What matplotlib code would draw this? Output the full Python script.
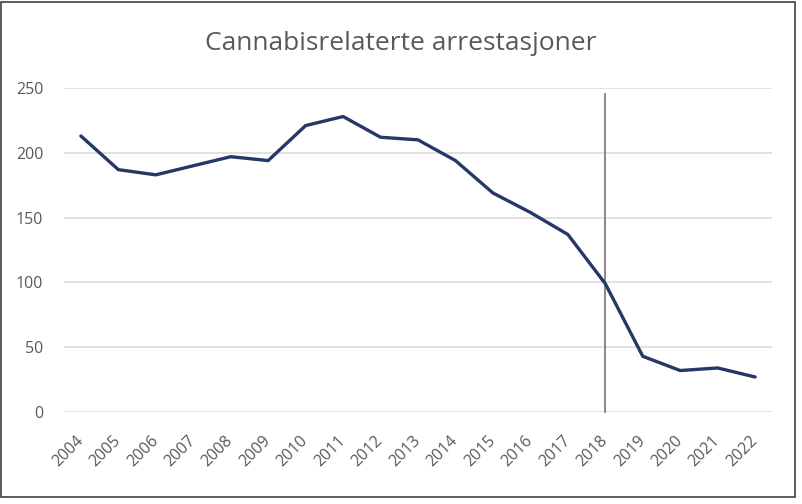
import matplotlib.pyplot as plt
from matplotlib.patches import Rectangle

years = [str(y) for y in range(2004, 2023)]
arrests = [213, 187, 183, 190, 197, 194, 221, 228, 212, 210,
           194, 169, 154, 137, 99, 43, 32, 34, 27]
marker_year = '2018'
marker_top = 245

plt.rcParams['font.family'] = ['Open Sans', 'DejaVu Sans']
text_col = '#595959'

fig = plt.figure(figsize=(8.02, 5.04), dpi=100)
ax = fig.add_axes([0.0798, 0.1825, 0.8828, 0.6429])

x = list(range(len(years)))
ax.plot(x, arrests, color='#263768', lw=2.4, solid_capstyle='round',
        solid_joinstyle='round', zorder=3)

xi = years.index(marker_year)
ax.plot([xi, xi], [0, marker_top], color='#7f7f7f', lw=1.3, zorder=2,
        clip_on=False)

ax.set_xlim(-0.45, len(years) - 0.55)
ax.set_ylim(0, 250)
ax.set_yticks(range(0, 251, 50))
ax.set_xticks(x)
ax.set_xticklabels(years, rotation=45, ha='right', va='center',
                   rotation_mode='anchor')
ax.tick_params(axis='both', length=0, labelsize=11.5, labelcolor=text_col)
ax.tick_params(axis='x', pad=19)
ax.tick_params(axis='y', pad=15)
ax.grid(axis='y', color='#d9d9d9', lw=1.1)
ax.set_axisbelow(True)
for s in ax.spines.values():
    s.set_visible(False)

fig.text(0.5, 1 - 43 / 504, 'Cannabisrelaterte arrestasjoner',
         ha='center', va='center', fontsize=19, color=text_col)

fig.patches.append(Rectangle((1 / 802, 1 - 497 / 504), 794 / 802, 495 / 504,
                             transform=fig.transFigure, fill=False,
                             edgecolor='#404040', lw=1.2))

fig.savefig('out.png', dpi=100)
